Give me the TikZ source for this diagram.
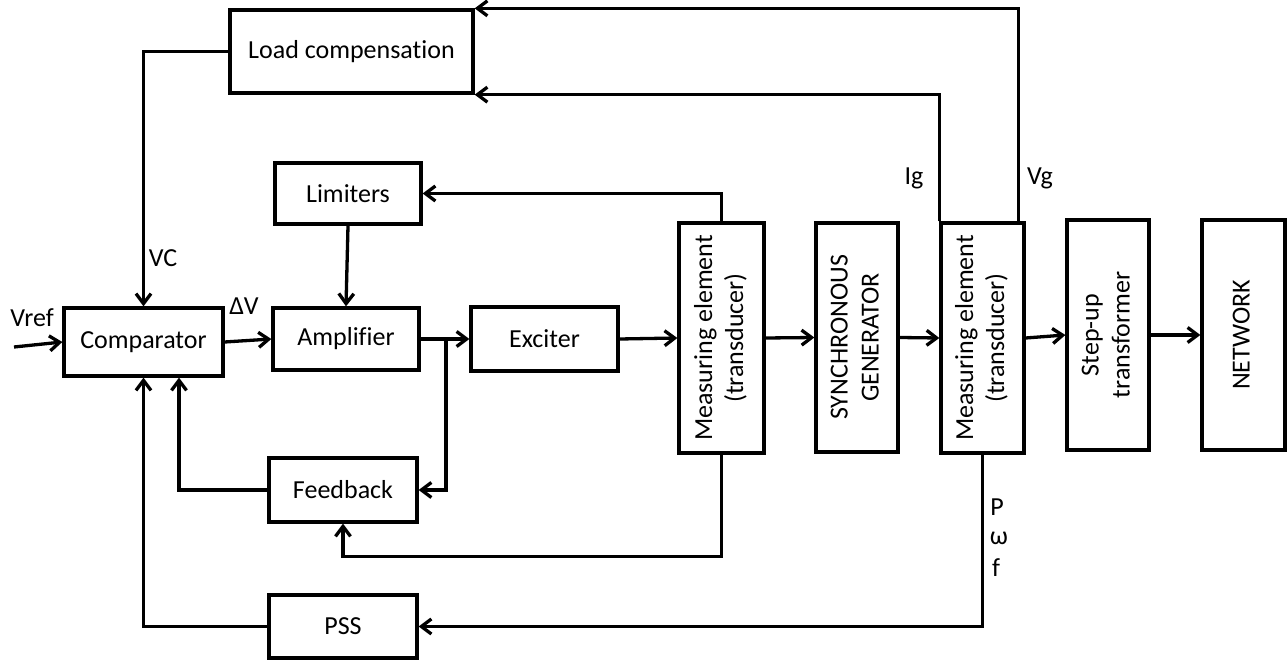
\documentclass[tikz,border=0pt]{standalone}
\usepackage{fontspec}
\setmainfont[Ligatures=NoCommon]{Carlito}
\usetikzlibrary{arrows.meta,calc}
\tikzset{
  blk/.style={draw, line width=3.3pt, rectangle, inner sep=0pt, align=center, font=\fontsize{26}{31}\selectfont},
  arr/.style={line width=3.3pt, -{Straight Barb[length=10pt,width=15pt,line width=3.3pt]}},
  lbl/.style={inner sep=0pt, font=\fontsize{26}{31}\selectfont}
}
\newcommand{\vtxt}[1]{\rotatebox{90}{\begin{tabular}{@{}c@{}}#1\end{tabular}}}
\begin{document}
\begin{tikzpicture}[x=1pt,y=-1pt]
\useasboundingbox (0,0) rectangle (1287,660);
% blocks
\node[blk, minimum width=243pt, minimum height=83pt] (lc) at (351.5,51.5) {Load compensation};
\node[blk, minimum width=146pt, minimum height=61pt] (lim) at (348,193.5) {Limiters};
\node[blk, minimum width=159pt, minimum height=68pt] (comp) at (143.5,342) {Comparator};
\node[blk, minimum width=146pt, minimum height=62pt] (amp) at (346,339) {Amplifier};
\node[blk, minimum width=147pt, minimum height=64pt] (exc) at (544.5,339) {Exciter};
\node[blk, minimum width=148pt, minimum height=64pt] (fb) at (343,490) {Feedback};
\node[blk, minimum width=148pt, minimum height=63pt] (pss) at (343,626.5) {PSS};
\node[blk, minimum width=85pt, minimum height=230pt] (m1) at (721.5,338) {\vtxt{Measuring element\\(transducer)}};
\node[blk, minimum width=82pt, minimum height=229pt] (sg) at (857,337.5) {\vtxt{SYNCHRONOUS\\GENERATOR}};
\node[blk, minimum width=83pt, minimum height=230pt] (m2) at (982.5,338) {\vtxt{Measuring element\\(transducer)}};
\node[blk, minimum width=82pt, minimum height=230pt] (st) at (1108,335) {\vtxt{Step-up\\transformer}};
\node[blk, minimum width=83pt, minimum height=230pt] (net) at (1243.5,335) {\vtxt{NETWORK}};
% labels
\node[lbl] (lvref) at (32,318) {Vref};
\node[lbl] (lvc) at (163,258) {VC};
\node[lbl] (ldv) at (244,306) {ΔV};
\node[lbl] (lig) at (914,178) {Ig};
\node[lbl] (lvg) at (1040,178) {Vg};
\node[lbl] (lp) at (997,507) {P};
\node[lbl] (lw) at (999,538) {ω};
\node[lbl] (lf) at (996,568) {f};
% connectors
\coordinate (vin) at (14,347);
\draw[arr] (vin) -- (comp.west);
\draw[arr] (comp.east) -- (amp.west);
\draw[arr] (lim.south) -- (amp.north);
\draw[arr] (amp.east) -- (exc.west);
\coordinate (br) at (446,339);
\draw[arr] (br) |- (fb.east);
\draw[arr] (fb.west) -| ($(comp.south)+(35.5,0)$);
\draw[arr] (pss.west) -| (comp.south);
\draw[arr] (lc.west) -| (comp.north);
\draw[arr] (exc.east) -- (m1.west);
\draw[arr] (m1.north) |- (lim.east);
\draw[arr] (m1.south) |- ($(fb.south)+(0,33)$) -- (fb.south);
\draw[arr] (m1.east) -- (sg.west);
\draw[arr] (sg.east) -- (m2.west);
\draw[arr] (m2.east) -- (st.west);
\draw[arr] (st.east) -- (net.west);
\draw[arr] (m2.north west) |- (lc.south east);
\draw[arr] ($(m2.north east)+(-7,0)$) |- (lc.north east);
\draw[arr] (m2.south) |- (pss.east);
\end{tikzpicture}
\end{document}
